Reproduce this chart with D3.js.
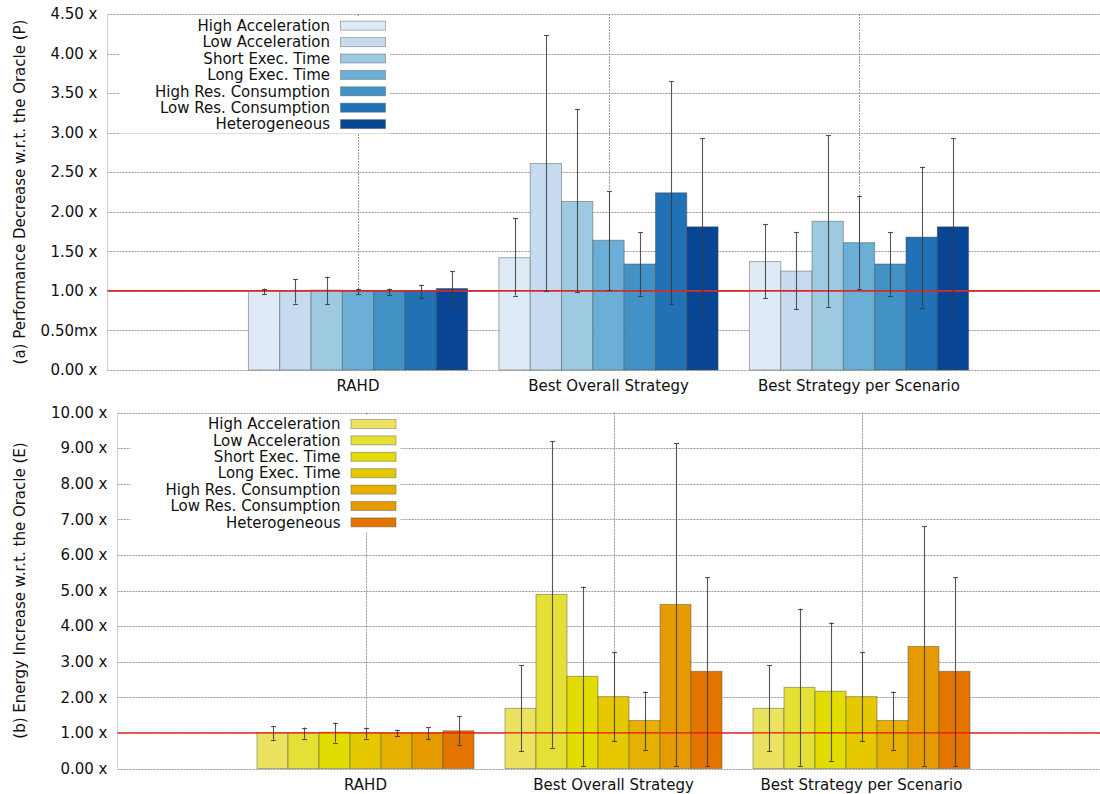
<!DOCTYPE html>
<html>
<head>
<meta charset="utf-8">
<script src="https://cdn.jsdelivr.net/npm/d3@7"></script>
<style>
  html, body { margin: 0; padding: 0; background: #fff; }
  svg { display: block; font-family: "DejaVu Sans", sans-serif; }
</style>
</head>
<body>
<svg id="chart" width="1100" height="794"></svg>
<script>
// Groups along the x axis
const categories = ["RAHD", "Best Overall Strategy", "Best Strategy per Scenario"];

// Scenario series (one bar per scenario in each group)
const series = ["High Acceleration", "Low Acceleration", "Short Exec. Time", "Long Exec. Time",
                "High Res. Consumption", "Low Res. Consumption", "Heterogeneous"];

const perfColors = ["#deebf7", "#c6dbef", "#9ecae1", "#6baed6", "#4292c6", "#2171b5", "#084594"];
const energyColors = ["#ebe35f", "#e5e036", "#e3dc00", "#e5c800", "#e5b000", "#e59a00", "#e37400"];

// (a) Performance decrease: mean, lower and upper error bounds, per scenario x group
const perfMean = [
  [1.00, 1.42, 1.37],
  [1.00, 2.61, 1.25],
  [1.01, 2.13, 1.88],
  [1.00, 1.64, 1.61],
  [1.00, 1.34, 1.34],
  [1.00, 2.24, 1.68],
  [1.03, 1.81, 1.81]
];
const perfLow = [
  [0.96, 0.94, 0.91],
  [0.84, 1.00, 0.77],
  [0.83, 0.98, 0.80],
  [0.96, 1.01, 1.03],
  [0.95, 0.94, 0.94],
  [0.91, 0.83, 0.79],
  [0.81, 0.72, 0.72]
];
const perfHigh = [
  [1.03, 1.92, 1.84],
  [1.15, 4.23, 1.74],
  [1.18, 3.30, 2.97],
  [1.03, 2.26, 2.20],
  [1.03, 1.74, 1.74],
  [1.08, 3.65, 2.57],
  [1.25, 2.93, 2.93]
];

// (b) Energy increase: mean, lower and upper error bounds, per scenario x group
const energyMean = [
  [1.00, 1.69, 1.69],
  [1.00, 4.89, 2.28],
  [1.02, 2.59, 2.17],
  [1.00, 2.02, 2.02],
  [1.00, 1.35, 1.35],
  [1.00, 4.61, 3.43],
  [1.06, 2.73, 2.73]
];
const energyLow = [
  [0.81, 0.48, 0.48],
  [0.84, 0.58, 0.08],
  [0.73, 0.08, 0.22],
  [0.84, 0.76, 0.76],
  [0.91, 0.53, 0.53],
  [0.82, 0.08, 0.08],
  [0.67, 0.08, 0.08]
];
const energyHigh = [
  [1.18, 2.90, 2.90],
  [1.15, 9.20, 4.49],
  [1.29, 5.11, 4.10],
  [1.15, 3.27, 3.27],
  [1.09, 2.16, 2.16],
  [1.16, 9.13, 6.80],
  [1.47, 5.37, 5.37]
];

// Y tick values and labels
const perfTicks = [0, 0.5, 1, 1.5, 2, 2.5, 3, 3.5, 4, 4.5];
const perfTickLabels = ["0.00 x", "0.50mx", "1.00 x", "1.50 x", "2.00 x", "2.50 x", "3.00 x", "3.50 x", "4.00 x", "4.50 x"];
const energyTicks = [0, 1, 2, 3, 4, 5, 6, 7, 8, 9, 10];
const energyTickLabels = ["0.00 x", "1.00 x", "2.00 x", "3.00 x", "4.00 x", "5.00 x", "6.00 x", "7.00 x", "8.00 x", "9.00 x", "10.00 x"];

const svg = d3.select("#chart");
const BAR_W = 0.125; // bar width in x units (one group spans 7 bars)
const GRID = { stroke: "#9a9a9a", dash: "2,1" };

function panel(cfg) {
  const g = svg.append("g");
  const x = d3.scaleLinear().domain([-1, 3]).range([cfg.left, 1109.5]);
  const y = d3.scaleLinear().domain(cfg.yDomain).range([cfg.bottom, cfg.top]);

  // horizontal grid
  g.append("g").selectAll("line").data(cfg.ticks).join("line")
    .attr("x1", cfg.left).attr("x2", 1100)
    .attr("y1", d => Math.round(y(d)) + 0.5).attr("y2", d => Math.round(y(d)) + 0.5)
    .attr("stroke", GRID.stroke).attr("stroke-dasharray", GRID.dash).attr("stroke-width", 1);

  // vertical grid at group centres
  g.append("g").selectAll("line").data(d3.range(categories.length)).join("line")
    .attr("x1", d => Math.round(x(d)) + 0.5).attr("x2", d => Math.round(x(d)) + 0.5)
    .attr("y1", y(cfg.yDomain[1])).attr("y2", y(0))
    .attr("stroke", GRID.stroke).attr("stroke-dasharray", GRID.dash).attr("stroke-width", 1);

  // left axis line
  g.append("line")
    .attr("x1", cfg.left).attr("x2", cfg.left)
    .attr("y1", y(cfg.yDomain[1])).attr("y2", y(0))
    .attr("stroke", "#cfcfcf").attr("stroke-width", 1);

  // y tick labels
  g.append("g").selectAll("text").data(cfg.ticks).join("text")
    .attr("x", cfg.left - 10).attr("y", d => y(d))
    .attr("dy", "0.35em").attr("text-anchor", "end")
    .attr("font-size", 15).attr("fill", "#111")
    .text((d, i) => cfg.tickLabels[i]);

  // y axis title
  g.append("text")
    .attr("transform", `translate(25,${(y(0) + y(cfg.yDomain[1])) / 2}) rotate(-90)`)
    .attr("text-anchor", "middle").attr("font-size", 15).attr("fill", "#111")
    .text(cfg.title);

  // category labels
  g.append("g").selectAll("text").data(categories).join("text")
    .attr("x", (d, i) => x(i)).attr("y", cfg.labelY)
    .attr("text-anchor", "middle").attr("font-size", 15).attr("fill", "#111")
    .text(d => d);

  // legend (opaque box)
  const legX = cfg.legendRight;
  const rowH = 16.4;
  g.append("rect")
    .attr("x", legX - 210).attr("y", cfg.legendTop - 9)
    .attr("width", 270).attr("height", rowH * series.length + 2)
    .attr("fill", "#fff");
  const leg = g.append("g").selectAll("g").data(series).join("g")
    .attr("transform", (d, i) => `translate(0,${cfg.legendTop + i * rowH})`);
  leg.append("text")
    .attr("x", legX).attr("y", 0).attr("dy", "0.35em")
    .attr("text-anchor", "end").attr("font-size", 15).attr("fill", "#111")
    .text(d => d);
  leg.append("rect")
    .attr("x", legX + 10.5).attr("y", -4.5).attr("width", 45).attr("height", 9)
    .attr("fill", (d, i) => cfg.colors[i])
    .attr("stroke", "rgba(90,90,90,0.45)").attr("stroke-width", 1);

  // bars
  const bars = [];
  series.forEach((s, si) => {
    categories.forEach((c, ci) => {
      bars.push({ si, ci, v: cfg.mean[si][ci], lo: cfg.low[si][ci], hi: cfg.high[si][ci] });
    });
  });
  const cx = d => d.ci + (d.si - 3) * BAR_W;

  g.append("g").selectAll("rect").data(bars).join("rect")
    .attr("x", d => x(cx(d) - BAR_W / 2))
    .attr("width", d => x(BAR_W) - x(0))
    .attr("y", d => y(d.v))
    .attr("height", d => y(0) - y(d.v))
    .attr("fill", d => cfg.colors[d.si])
    .attr("stroke", "rgba(70,70,70,0.45)").attr("stroke-width", 1);

  // reference line at 1.0
  g.append("line")
    .attr("x1", cfg.left).attr("x2", 1100)
    .attr("y1", y(1)).attr("y2", y(1))
    .attr("stroke", cfg.refColor).attr("stroke-width", cfg.refWidth);

  // error bars
  const eb = g.append("g").attr("stroke", "#383838").attr("stroke-width", 1.1).attr("stroke-opacity", 0.85);
  eb.selectAll("line.v").data(bars).join("line").attr("class", "v")
    .attr("x1", d => Math.round(x(cx(d))) + 0.5).attr("x2", d => Math.round(x(cx(d))) + 0.5)
    .attr("y1", d => y(d.lo)).attr("y2", d => y(d.hi));
  ["lo", "hi"].forEach(k => {
    eb.selectAll("line.c" + k).data(bars).join("line").attr("class", "c" + k)
      .attr("x1", d => Math.round(x(cx(d))) - 2).attr("x2", d => Math.round(x(cx(d))) + 3)
      .attr("y1", d => Math.round(y(d[k])) + 0.5).attr("y2", d => Math.round(y(d[k])) + 0.5);
  });
}

panel({
  left: 107.5, top: 14, bottom: 370, yDomain: [0, 4.5],
  ticks: perfTicks, tickLabels: perfTickLabels,
  title: "(a) Performance Decrease w.r.t. the Oracle (P)",
  labelY: 391, legendRight: 330, legendTop: 25.7,
  colors: perfColors, mean: perfMean, low: perfLow, high: perfHigh,
  refColor: "#d82a2a", refWidth: 1.8
});

panel({
  left: 117.5, top: 412.5, bottom: 768.5, yDomain: [0, 10],
  ticks: energyTicks, tickLabels: energyTickLabels,
  title: "(b) Energy Increase w.r.t. the Oracle (E)",
  labelY: 790, legendRight: 340.5, legendTop: 424,
  colors: energyColors, mean: energyMean, low: energyLow, high: energyHigh,
  refColor: "#e81010", refWidth: 1.4
});
</script>
</body>
</html>
